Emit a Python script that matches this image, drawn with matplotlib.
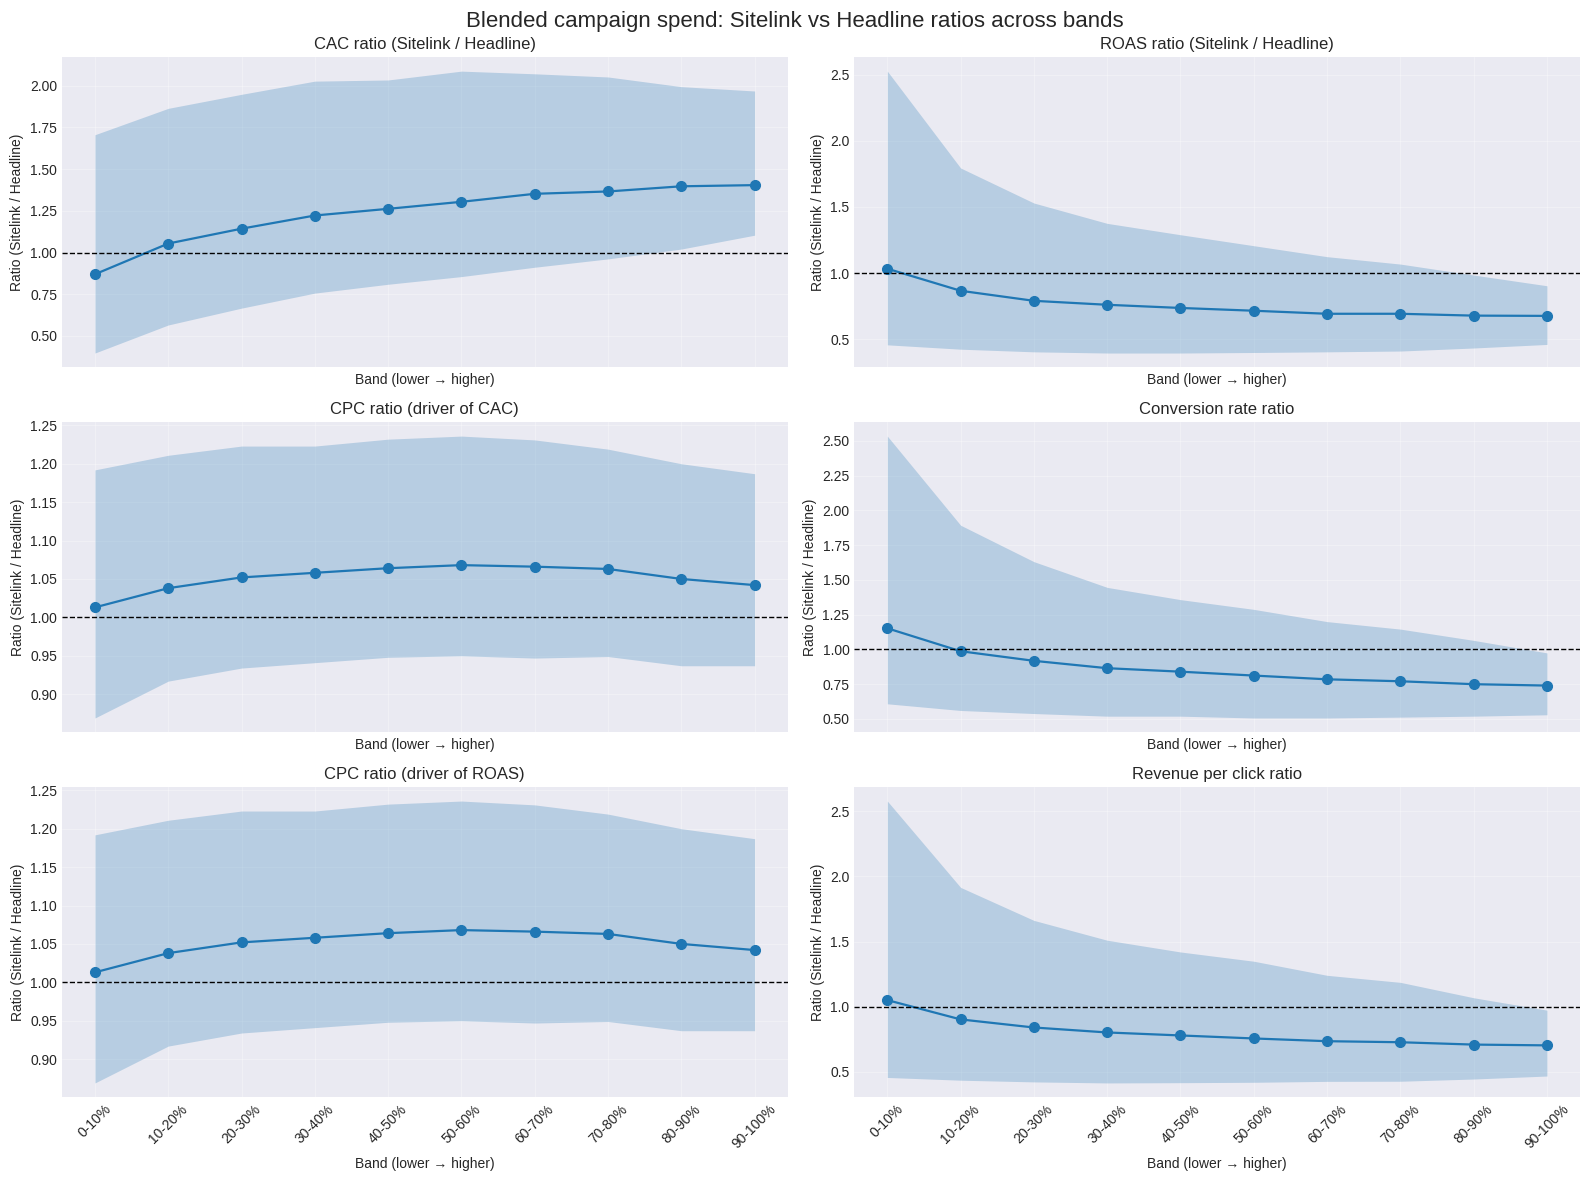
import matplotlib
matplotlib.use("Agg")
import matplotlib.pyplot as plt

plt.style.use("seaborn-v0_8-darkgrid")
plt.rcParams['font.family'] = ['Liberation Sans', 'DejaVu Sans']

# 数据：各分段的比值（均值与区间）
bands = ["0-10%", "10-20%", "20-30%", "30-40%", "40-50%",
         "50-60%", "60-70%", "70-80%", "80-90%", "90-100%"]

cac_mean = [0.87, 1.054, 1.143, 1.222, 1.262, 1.304, 1.352, 1.366, 1.397, 1.404]
cac_hi = [1.706, 1.864, 1.948, 2.027, 2.034, 2.087, 2.071, 2.052, 1.994, 1.968]
cac_lo = [0.398, 0.566, 0.667, 0.757, 0.81, 0.856, 0.912, 0.962, 1.021, 1.104]

roas_mean = [1.033, 0.866, 0.79, 0.76, 0.736, 0.715, 0.692, 0.692, 0.678, 0.676]
roas_hi = [2.528, 1.795, 1.53, 1.376, 1.29, 1.207, 1.124, 1.068, 0.985, 0.904]
roas_lo = [0.457, 0.424, 0.404, 0.395, 0.395, 0.399, 0.404, 0.41, 0.433, 0.46]

cpc_mean = [1.013, 1.038, 1.052, 1.058, 1.064, 1.068, 1.066, 1.063, 1.050, 1.042]
cpc_hi = [1.192, 1.211, 1.223, 1.223, 1.232, 1.236, 1.231, 1.219, 1.2, 1.187]
cpc_lo = [0.869, 0.917, 0.934, 0.941, 0.948, 0.950, 0.947, 0.949, 0.937, 0.937]

cvr_mean = [1.152, 0.987, 0.918, 0.865, 0.84, 0.812, 0.785, 0.771, 0.75, 0.74]
cvr_hi = [2.534, 1.893, 1.631, 1.446, 1.358, 1.288, 1.2, 1.146, 1.065, 0.975]
cvr_lo = [0.609, 0.561, 0.539, 0.52, 0.52, 0.507, 0.507, 0.513, 0.52, 0.53]

rpc_mean = [1.051, 0.903, 0.841, 0.803, 0.78, 0.757, 0.736, 0.728, 0.71, 0.704]
rpc_hi = [2.577, 1.915, 1.662, 1.51, 1.42, 1.349, 1.241, 1.187, 1.069, 0.974]
rpc_lo = [0.458, 0.437, 0.424, 0.416, 0.418, 0.421, 0.428, 0.429, 0.446, 0.469]

panels = [
    ("CAC ratio (Sitelink / Headline)", cac_mean, cac_lo, cac_hi),
    ("ROAS ratio (Sitelink / Headline)", roas_mean, roas_lo, roas_hi),
    ("CPC ratio (driver of CAC)", cpc_mean, cpc_lo, cpc_hi),
    ("Conversion rate ratio", cvr_mean, cvr_lo, cvr_hi),
    ("CPC ratio (driver of ROAS)", cpc_mean, cpc_lo, cpc_hi),
    ("Revenue per click ratio", rpc_mean, rpc_lo, rpc_hi),
]

fig, axes = plt.subplots(3, 2, figsize=(15.89, 11.81), dpi=100, sharex=True)
x = list(range(len(bands)))

for ax, (title, mean, lo, hi) in zip(axes.ravel(), panels):
    ax.fill_between(x, lo, hi, color="C0", alpha=0.25, linewidth=0)
    ax.plot(x, mean, marker="o", color="C0", linewidth=1.6, markersize=7)
    ax.axhline(1.0, color="black", linestyle="--", linewidth=1)
    ax.set_title(title, fontsize=12)
    ax.set_xlabel("Band (lower → higher)", fontsize=10)
    ax.set_ylabel("Ratio (Sitelink / Headline)", fontsize=10)
    ax.grid(True, alpha=0.3)
    ax.tick_params(labelsize=10)

for ax in axes[-1]:
    ax.set_xticks(x)
    ax.set_xticklabels(bands, rotation=45)
for ax in axes[:-1].ravel():
    ax.tick_params(labelbottom=False)
    ax.xaxis.label.set_visible(True)

fig.suptitle("Blended campaign spend: Sitelink vs Headline ratios across bands",
             fontsize=16, y=0.991)
fig.subplots_adjust(left=0.039, right=0.9943, top=0.9517, bottom=0.0711,
                    wspace=0.092, hspace=0.177)
plt.savefig("out.png", dpi=100)
